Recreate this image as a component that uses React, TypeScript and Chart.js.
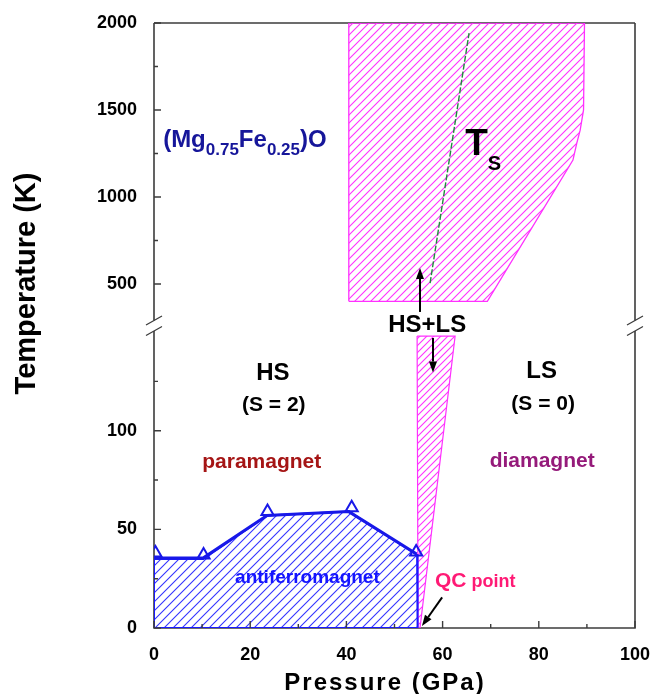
import React, { useEffect, useRef } from 'react';
import { Chart, registerables } from 'chart.js';

Chart.register(...registerables);

const FONT = "'Liberation Sans', Arial, Helvetica, sans-serif";

// ---------- axis ranges & ticks ----------
const xRange = [0, 100];
const yUpperRange = [264, 2000];
const yLowerRange = [0, 153.6];
const xTicks = [0, 20, 40, 60, 80, 100];
const xMinorTicks = [10, 30, 50, 70, 90];
const yUpperTicks = [500, 1000, 1500, 2000];
const yUpperMinorTicks = [750, 1250, 1750];
const yLowerTicks = [0, 50, 100];
const yLowerMinorTicks = [25, 75, 125];

// ---------- data (pressure GPa, temperature K) ----------
// Neel temperature markers (triangles)
const afmPressure = [0.3, 10.3, 23.6, 41.1, 54.5];
const afmTemperature = [38, 37, 59, 61, 38.5];

// Neel boundary line
const neelLineP = [0, 10.2, 23.5, 40.5, 54.6];
const neelLineT = [35.5, 35.5, 57, 59, 37.5];

// antiferromagnet region outline
const afmRegionP = [0, 0, 10.2, 23.5, 40.5, 54.7, 54.8, 0];
const afmRegionT = [0, 35, 35, 57, 59, 37, 0, 0];

// HS+LS region, high temperature part
const mixedHighP = [40.5, 40.5, 89.5, 89.3, 88.6, 87.9, 87.1, 69.3, 40.5];
const mixedHighT = [400, 2000, 2000, 1500, 1384, 1310, 1212, 400, 400];

// HS+LS region, low temperature wedge
const mixedLowP = [54.7, 62.6, 55.3, 54.9, 54.7];
const mixedLowT = [148, 148, 0, 0, 148];

// Ts line
const tsP = [57.4, 65.5];
const tsT = [505, 1942];

// arrows: [fromP, fromT, toP, toT]
const arrowUpHSLS = [55.3, 339, 55.3, 592];
const arrowDownHSLS = [58.0, 147, 58.0, 129.5];
const arrowQC = [59.9, 15.5, 55.7, 1.0];

// ---------- text annotations ----------
type Seg = { text: string; size: number; color: string; dy?: number };
type Ann = { axis: 'yU' | 'yL'; p: number; t: number; align: 'left' | 'center'; segs: Seg[] };

const NAVY = '#16169a';
const annotations: Ann[] = [
  {
    axis: 'yU', p: 1.9, t: 1287, align: 'left',
    segs: [
      { text: '(Mg', size: 24, color: NAVY },
      { text: '0.75', size: 17, color: NAVY, dy: 8 },
      { text: 'Fe', size: 24, color: NAVY },
      { text: '0.25', size: 17, color: NAVY, dy: 8 },
      { text: ')O', size: 24, color: NAVY },
    ],
  },
  {
    axis: 'yU', p: 64.7, t: 1241, align: 'left',
    segs: [
      { text: 'T', size: 37, color: '#000' },
      { text: 'S', size: 20, color: '#000', dy: 15 },
    ],
  },
  { axis: 'yL', p: 56.8, t: 150, align: 'center', segs: [{ text: 'HS+LS', size: 24, color: '#000' }] },
  { axis: 'yL', p: 24.7, t: 125.7, align: 'center', segs: [{ text: 'HS', size: 24, color: '#000' }] },
  { axis: 'yL', p: 24.9, t: 110, align: 'center', segs: [{ text: '(S = 2)', size: 21, color: '#000' }] },
  { axis: 'yL', p: 22.4, t: 81, align: 'center', segs: [{ text: 'paramagnet', size: 21, color: '#a51515' }] },
  { axis: 'yL', p: 31.9, t: 22.8, align: 'center', segs: [{ text: 'antiferromagnet', size: 19, color: '#1414ff' }] },
  { axis: 'yL', p: 80.6, t: 126.7, align: 'center', segs: [{ text: 'LS', size: 24, color: '#000' }] },
  { axis: 'yL', p: 80.9, t: 110.5, align: 'center', segs: [{ text: '(S = 0)', size: 21, color: '#000' }] },
  { axis: 'yL', p: 80.7, t: 81.8, align: 'center', segs: [{ text: 'diamagnet', size: 21, color: '#951a7a' }] },
  {
    axis: 'yL', p: 58.4, t: 21, align: 'left',
    segs: [
      { text: 'QC', size: 21, color: '#ff1a75' },
      { text: ' point', size: 18, color: '#ff1a75' },
    ],
  },
];

const pts = (xs: number[], ys: number[]) => xs.map((x, i) => ({ x, y: ys[i] }));

const hatchCanvases: HTMLCanvasElement[] = [];
function makeHatch(target: CanvasRenderingContext2D, color: string, spacing: number, lw: number): CanvasPattern | string {
  const c = document.createElement('canvas');
  hatchCanvases.push(c);
  c.width = spacing;
  c.height = spacing;
  const g = c.getContext('2d');
  if (!g) return color;
  g.clearRect(0, 0, spacing, spacing);
  g.strokeStyle = color;
  g.lineWidth = lw;
  g.beginPath();
  g.moveTo(-1, spacing + 1);
  g.lineTo(spacing + 1, -1);
  g.moveTo(-1, 1);
  g.lineTo(1, -1);
  g.moveTo(spacing - 1, spacing + 1);
  g.lineTo(spacing + 1, spacing - 1);
  g.stroke();
  return target.createPattern(c, 'repeat') || color;
}

function drawRich(ctx: CanvasRenderingContext2D, segs: Seg[], x: number, y: number, align: string) {
  let total = 0;
  const widths: number[] = [];
  for (const s of segs) {
    ctx.font = `bold ${s.size}px ${FONT}`;
    const w = ctx.measureText(s.text).width;
    widths.push(w);
    total += w;
  }
  let cx = align === 'center' ? x - total / 2 : x;
  ctx.textAlign = 'left';
  ctx.textBaseline = 'alphabetic';
  segs.forEach((s, i) => {
    ctx.font = `bold ${s.size}px ${FONT}`;
    ctx.fillStyle = s.color;
    ctx.fillText(s.text, cx, y + (s.dy || 0));
    cx += widths[i];
  });
}

function drawArrow(ctx: CanvasRenderingContext2D, x1: number, y1: number, x2: number, y2: number) {
  const ang = Math.atan2(y2 - y1, x2 - x1);
  const hl = 11, hw = 4;
  const bx = x2 - Math.cos(ang) * hl, by = y2 - Math.sin(ang) * hl;
  ctx.beginPath();
  ctx.moveTo(x1, y1);
  ctx.lineTo(bx, by);
  ctx.stroke();
  ctx.beginPath();
  ctx.moveTo(x2, y2);
  ctx.lineTo(bx + Math.sin(ang) * hw, by - Math.cos(ang) * hw);
  ctx.lineTo(bx - Math.sin(ang) * hw, by + Math.cos(ang) * hw);
  ctx.closePath();
  ctx.fill();
}

const decor = {
  id: 'decor',
  beforeDatasetsDraw(chart: any) {
    const ctx: CanvasRenderingContext2D = chart.ctx;
    const { left, right, top, bottom } = chart.chartArea;
    const split = chart.scales.yU.bottom;
    const b1 = split - 4.5, b2 = split + 6;
    ctx.save();
    ctx.strokeStyle = '#3c3c3c';
    ctx.lineWidth = 1.6;
    ctx.beginPath();
    ctx.moveTo(left, top); ctx.lineTo(left, b1);
    ctx.moveTo(left, b2); ctx.lineTo(left, bottom);
    ctx.moveTo(right, top); ctx.lineTo(right, b1);
    ctx.moveTo(right, b2); ctx.lineTo(right, bottom);
    ctx.moveTo(left, top); ctx.lineTo(right, top);
    ctx.moveTo(left - 0.8, bottom); ctx.lineTo(right + 0.8, bottom);
    ctx.stroke();
    ctx.lineWidth = 1.3;
    ctx.beginPath();
    for (const bx of [left, right]) {
      for (const by of [b1, b2]) {
        ctx.moveTo(bx - 8, by + 4.5);
        ctx.lineTo(bx + 8, by - 4.5);
      }
    }
    ctx.stroke();
    ctx.restore();
  },
  afterDatasetsDraw(chart: any) {
    const ctx: CanvasRenderingContext2D = chart.ctx;
    const { x, yU, yL } = chart.scales;
    const { left, bottom } = chart.chartArea;
    ctx.save();
    ctx.strokeStyle = '#3c3c3c';
    ctx.lineWidth = 1.4;
    ctx.beginPath();
    const yTick = (s: any, vals: number[], len: number) => {
      for (const v of vals) {
        const py = s.getPixelForValue(v);
        ctx.moveTo(left, py);
        ctx.lineTo(left + len, py);
      }
    };
    yTick(yU, yUpperTicks, 7);
    yTick(yU, yUpperMinorTicks, 4);
    yTick(yL, yLowerTicks, 7);
    yTick(yL, yLowerMinorTicks, 4);
    for (const v of xTicks) {
      const px = x.getPixelForValue(v);
      ctx.moveTo(px, bottom);
      ctx.lineTo(px, bottom - 7);
    }
    for (const v of xMinorTicks) {
      const px = x.getPixelForValue(v);
      ctx.moveTo(px, bottom);
      ctx.lineTo(px, bottom - 4);
    }
    ctx.stroke();

    // arrows
    ctx.strokeStyle = '#000';
    ctx.fillStyle = '#000';
    ctx.lineWidth = 2;
    const arr = (a: number[], s: any) =>
      drawArrow(ctx, x.getPixelForValue(a[0]), s.getPixelForValue(a[1]), x.getPixelForValue(a[2]), s.getPixelForValue(a[3]));
    arr(arrowUpHSLS, yU);
    arr(arrowDownHSLS, yL);
    arr(arrowQC, yL);

    // annotations
    for (const a of annotations) {
      const s = a.axis === 'yU' ? yU : yL;
      drawRich(ctx, a.segs, x.getPixelForValue(a.p), s.getPixelForValue(a.t), a.align);
    }
    ctx.restore();
  },
  afterDraw(chart: any) {
    const ctx: CanvasRenderingContext2D = chart.ctx;
    ctx.save();
    ctx.fillStyle = '#000';
    ctx.textBaseline = 'alphabetic';
    ctx.textAlign = 'center';
    // y title
    ctx.save();
    ctx.translate(35, 283.5);
    ctx.rotate(-Math.PI / 2);
    ctx.font = `bold 29px ${FONT}`;
    ctx.fillText('Temperature (K)', 0, 0);
    ctx.restore();
    // x title
    ctx.font = `bold 24px ${FONT}`;
    (ctx as any).letterSpacing = '2px';
    ctx.fillText('Pressure (GPa)', 385, 690);
    (ctx as any).letterSpacing = '0px';
    ctx.restore();
  },
};

export default function App() {
  const ref = useRef<HTMLCanvasElement | null>(null);

  useEffect(() => {
    document.body.style.margin = '0';
    const canvas = ref.current;
    if (!canvas) return;
    const mainCtx = canvas.getContext('2d') as CanvasRenderingContext2D;
    const pinkHatch = makeHatch(mainCtx, 'rgb(255, 50, 255)', 8, 1.1);
    const pinkHatch2 = makeHatch(mainCtx, 'rgb(255, 50, 255)', 7, 1.1);
    const blueHatch = makeHatch(mainCtx, 'rgb(52, 52, 255)', 9, 1.1);
    const tickFont = { family: FONT, size: 18, weight: 'bold' as const };
    const fmt = (v: any) => String(v);

    const chart = new Chart(canvas, {
      type: 'line',
      data: {
        datasets: [
          {
            label: 'Neel temperature points',
            data: pts(afmPressure, afmTemperature),
            yAxisID: 'yL',
            showLine: false,
            pointStyle: 'triangle',
            pointRadius: 7,
            pointBorderWidth: 2,
            pointBorderColor: '#1818e8',
            pointBackgroundColor: 'rgba(0,0,0,0)',
            fill: false,
          },
          {
            label: 'Neel boundary',
            data: pts(neelLineP, neelLineT),
            yAxisID: 'yL',
            borderColor: '#1818e8',
            borderWidth: 3,
            pointRadius: 0,
            fill: false,
            tension: 0,
          },
          {
            label: 'antiferromagnet',
            data: pts(afmRegionP, afmRegionT),
            yAxisID: 'yL',
            borderColor: '#1a1aff',
            borderWidth: 2,
            backgroundColor: blueHatch as any,
            fill: { target: 'shape', above: blueHatch, below: blueHatch } as any,
            pointRadius: 0,
            tension: 0,
          },
          {
            label: 'HS+LS low',
            data: pts(mixedLowP, mixedLowT),
            yAxisID: 'yL',
            borderColor: '#ff30ff',
            borderWidth: 1.2,
            backgroundColor: pinkHatch2 as any,
            fill: { target: 'shape', above: pinkHatch2, below: pinkHatch2 } as any,
            pointRadius: 0,
            tension: 0,
          },
          {
            label: 'Ts',
            data: pts(tsP, tsT),
            yAxisID: 'yU',
            borderColor: '#1f8a3c',
            borderWidth: 1.4,
            borderDash: [6, 2],
            pointRadius: 0,
            fill: false,
            tension: 0,
          },
          {
            label: 'HS+LS high',
            data: pts(mixedHighP, mixedHighT),
            yAxisID: 'yU',
            borderColor: '#ff30ff',
            borderWidth: 1.3,
            backgroundColor: pinkHatch as any,
            fill: { target: 'shape', above: pinkHatch, below: pinkHatch } as any,
            pointRadius: 0,
            tension: 0,
          },
        ],
      },
      options: {
        responsive: false,
        animation: false,
        layout: { padding: { top: 23, right: 16, left: 0, bottom: 0 } },
        plugins: { legend: { display: false }, tooltip: { enabled: false } },
        scales: {
          x: {
            type: 'linear',
            position: 'bottom',
            min: xRange[0],
            max: xRange[1],
            grid: { display: false },
            border: { display: false },
            ticks: { font: tickFont, color: '#000', padding: 8, callback: fmt },
            afterBuildTicks: (s: any) => { s.ticks = xTicks.map((v) => ({ value: v })); },
            afterFit: (s: any) => { s.height = 66; s.paddingRight = 0; s.paddingLeft = 0; },
          },
          yU: {
            type: 'linear',
            position: 'left',
            stack: 'temp',
            stackWeight: yUpperRange[1] - yUpperRange[0],
            weight: 2,
            min: yUpperRange[0],
            max: yUpperRange[1],
            grid: { display: false },
            border: { display: false },
            ticks: { font: tickFont, color: '#000', padding: 9, callback: fmt },
            afterBuildTicks: (s: any) => { s.ticks = yUpperTicks.map((v) => ({ value: v })); },
            afterFit: (s: any) => { s.width = 154; s.paddingTop = 0; s.paddingBottom = 0; },
          },
          yL: {
            type: 'linear',
            position: 'left',
            stack: 'temp',
            stackWeight: (yLowerRange[1] - yLowerRange[0]) * 11.34,
            weight: 1,
            min: yLowerRange[0],
            max: yLowerRange[1],
            grid: { display: false },
            border: { display: false },
            ticks: { font: tickFont, color: '#000', padding: 9, callback: fmt },
            afterBuildTicks: (s: any) => { s.ticks = yLowerTicks.map((v) => ({ value: v })); },
            afterFit: (s: any) => { s.width = 154; s.paddingTop = 0; s.paddingBottom = 0; },
          },
        },
      } as any,
      plugins: [decor as any],
    });
    return () => chart.destroy();
  }, []);

  return (
    <div style={{ width: 651, height: 694 }}>
      <canvas ref={ref} width={651} height={694} style={{ display: 'block' }} />
    </div>
  );
}
